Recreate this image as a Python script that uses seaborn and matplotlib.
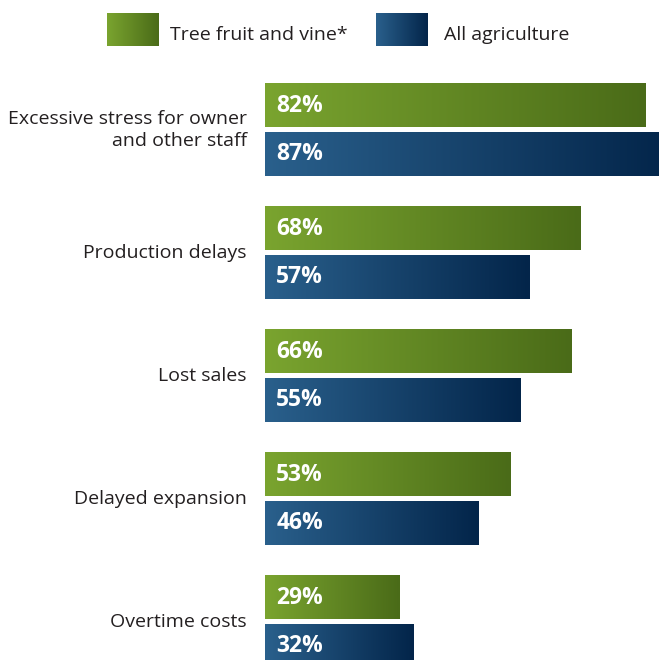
import numpy as np
import pandas as pd
import matplotlib
matplotlib.use("Agg")
import matplotlib.pyplot as plt
from matplotlib.colors import LinearSegmentedColormap, to_rgb
import seaborn as sns

categories = [
    "Excessive stress for owner\nand other staff",
    "Production delays",
    "Lost sales",
    "Delayed expansion",
    "Overtime costs",
]
tree_fruit_vine = [82, 68, 66, 53, 29]
all_agriculture = [87, 57, 55, 46, 32]
series_names = ["Tree fruit and vine*", "All agriculture"]

# left (light) -> right (dark) colours for each series
gradients = {
    series_names[0]: ("#7aa42f", "#4a6b18"),
    series_names[1]: ("#2a608c", "#03254a"),
}

df = pd.DataFrame({
    "category": categories * 2,
    "value": tree_fruit_vine + all_agriculture,
    "series": [series_names[0]] * len(categories) + [series_names[1]] * len(categories),
})

sns.set_theme(style="white")
plt.rcParams["font.family"] = ["Open Sans", "DejaVu Sans"]

W, H = 659, 660
fig = plt.figure(figsize=(W / 100, H / 100), dpi=100)

# axes spans from the bar origin to the right edge of the figure
ax_top_px = 70
ax = fig.add_axes([265 / W, 0, (W - 265) / W, (H - ax_top_px) / H])

palette = {s: gradients[s][0] for s in series_names}
sns.barplot(data=df, y="category", x="value", hue="series", hue_order=series_names,
            orient="h", width=0.789, gap=0.113, palette=palette, legend=False,
            saturation=1, ax=ax)

ax.set_xlim(0, 84.9)
# map pixels: group i centre sits at y = 130 + 123 i
ax.set_ylim((H - 130) / 123, (ax_top_px - 130) / 123)
ax.set_axis_off()


def gradient_cmap(c0, c1):
    return LinearSegmentedColormap.from_list("g", [to_rgb(c0), to_rgb(c1)])


grad = np.linspace(0, 1, 256).reshape(1, -1)
first_colours = {to_rgb(gradients[s][0]): s for s in series_names}
for patch in list(ax.patches):
    fc = tuple(round(c, 3) for c in patch.get_facecolor()[:3])
    series = None
    for k, s in first_colours.items():
        if np.allclose(fc, k, atol=0.01):
            series = s
    if series is None:
        continue
    x0, y0 = patch.get_x(), patch.get_y()
    w, h = patch.get_width(), patch.get_height()
    ax.imshow(grad, cmap=gradient_cmap(*gradients[series]), aspect="auto",
              extent=[x0, x0 + w, y0 + h, y0], zorder=2, interpolation="bicubic")
    patch.set_facecolor("none")
    ax.text(2.4, y0 + h / 2, f"{w:.0f}%", color="white", fontsize=16.5,
            fontweight="bold", va="center", ha="left", zorder=3)

# category labels to the left of the bars
for i, cat in enumerate(categories):
    ax.text(-18.0 / 4.64, i, cat, ha="right", va="center", fontsize=14,
            color="#231f20", linespacing=1.35, clip_on=False)

ax.set_xlim(0, 84.9)
ax.set_ylim((H - 130) / 123, (ax_top_px - 130) / 123)

# legend: gradient swatches with labels
legend_items = [(107, 158, 170, series_names[0]), (376, 427, 444, series_names[1])]
for sx0, sx1, tx, name in legend_items:
    sax = fig.add_axes([sx0 / W, 1 - 46 / H, (sx1 - sx0) / W, 33 / H])
    sax.imshow(grad, cmap=gradient_cmap(*gradients[name]), aspect="auto",
               interpolation="bicubic")
    sax.set_axis_off()
    fig.text(tx / W, 1 - 39.5 / H, name, ha="left", va="baseline", fontsize=14,
             color="#231f20")

fig.savefig("out.png", dpi=100)
